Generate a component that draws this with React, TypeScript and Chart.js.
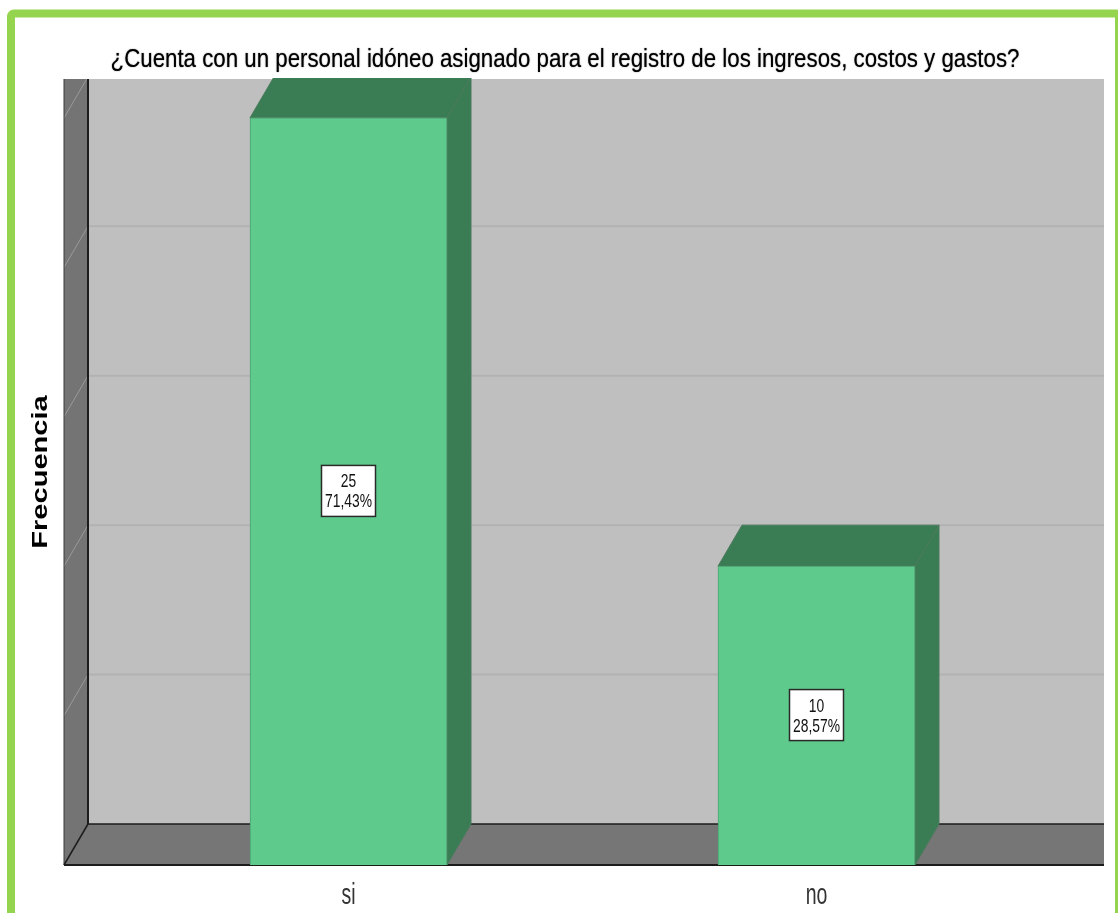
import React, { useEffect, useRef } from "react";
import { Chart, registerables } from "chart.js";

Chart.register(...registerables);

const categories = ["si", "no"];
const frequencies = [25, 10];
const percentLabels = ["71,43%", "28,57%"];
const chartTitle = "¿Cuenta con un personal idóneo asignado para el registro de los ingresos, costos y gastos?";
const yTitle = "Frecuencia";
const yStep = 5;
const yMax = 26.3;

const DEPTH_X = 24;
const DEPTH_Y = 41;
const WALL_LEFT_OFFSET = 50.5;
const WALL_RIGHT_OFFSET = 53.5;
const FONT = "'Liberation Sans', Arial, sans-serif";
const TITLE_SQUEEZE = 0.891;
const TICK_SQUEEZE = 0.65;
const LABEL_SQUEEZE = 0.77;
const YTITLE_STRETCH = 1.32;

const poly = (ctx: CanvasRenderingContext2D, pts: number[][], fill?: string, stroke?: string, lw = 1) => {
  ctx.beginPath();
  pts.forEach(([x, y], i) => (i ? ctx.lineTo(x, y) : ctx.moveTo(x, y)));
  ctx.closePath();
  if (fill) { ctx.fillStyle = fill; ctx.fill(); }
  if (stroke) { ctx.strokeStyle = stroke; ctx.lineWidth = lw; ctx.stroke(); }
};
const line = (ctx: CanvasRenderingContext2D, x1: number, y1: number, x2: number, y2: number, c: string, lw: number) => {
  ctx.beginPath();
  ctx.moveTo(x1, y1);
  ctx.lineTo(x2, y2);
  ctx.strokeStyle = c;
  ctx.lineWidth = lw;
  ctx.stroke();
};
const squeezeX = (ctx: CanvasRenderingContext2D, cx: number, s: number, fn: () => void) => {
  ctx.save();
  ctx.translate(cx, 0);
  ctx.scale(s, 1);
  ctx.translate(-cx, 0);
  fn();
  ctx.restore();
};

const framePlugin = {
  id: "frame3d",
  beforeDraw(chart: any) {
    const { ctx } = chart;
    ctx.save();
    ctx.beginPath();
    ctx.roundRect(11, 13.5, 1108, 920, 3);
    ctx.strokeStyle = "#94D44F";
    ctx.lineWidth = 8;
    ctx.stroke();
    ctx.restore();

    // The reference text is horizontally/vertically resampled: apply the same stretch to the native text.
    const title = chart.titleBlock;
    if (title && !title.__wrapped) {
      title.__wrapped = true;
      const orig = title.draw;
      title.draw = function (...args: any[]) {
        squeezeX(ctx, (this.left + this.right) / 2, TITLE_SQUEEZE, () => {
          ctx.shadowColor = "rgba(0,0,0,0.7)";
          ctx.shadowBlur = 1.2;
          orig.apply(this, args);
        });
      };
    }
    const xs = chart.scales.x;
    if (!xs.__wrapped) {
      xs.__wrapped = true;
      const orig = xs.drawLabels;
      xs.drawLabels = function (area: any) {
        const items = this.getLabelItems(area);
        items.forEach((item: any) => {
          this._labelItems = [item];
          squeezeX(ctx, item.options.translation[0], TICK_SQUEEZE, () => orig.call(this, area));
        });
        this._labelItems = items;
      };
    }
    const ys = chart.scales.y;
    if (!ys.__wrapped) {
      ys.__wrapped = true;
      const orig = ys.drawTitle;
      ys.drawTitle = function () {
        const cy = (this.top + this.bottom) / 2;
        ctx.save();
        ctx.translate(0, cy);
        ctx.scale(1, YTITLE_STRETCH);
        ctx.translate(0, -cy);
        orig.call(this);
        ctx.restore();
      };
    }
  },
  beforeDatasetsDraw(chart: any) {
    const { ctx, chartArea: a, scales } = chart;
    const L = a.left - WALL_LEFT_OFFSET;
    const R = a.right + WALL_RIGHT_OFFSET;
    const backL = L + DEPTH_X;
    const floorY = a.bottom - DEPTH_Y;
    ctx.save();
    poly(ctx, [[backL, a.top], [R, a.top], [R, floorY], [backL, floorY]], "#BFBFBF");
    poly(ctx, [[L, a.top], [backL, a.top], [backL, floorY], [L, a.bottom]], "#747474");
    poly(ctx, [[L, a.bottom], [backL, floorY], [R, floorY], [R, a.bottom]], "#767676");
    ctx.save();
    ctx.beginPath();
    ctx.rect(L, a.top, R - L, a.bottom - a.top);
    ctx.clip();
    scales.y.ticks.forEach((t: any) => {
      if (t.value === 0) return;
      const y = scales.y.getPixelForValue(t.value) - DEPTH_Y;
      line(ctx, backL, y, R, y, "#B2B2B2", 2);
      line(ctx, backL, y, L, y + DEPTH_Y, "#9A9A9A", 1);
    });
    ctx.restore();
    line(ctx, L, a.top, L, a.bottom, "#3A3A3A", 1);
    line(ctx, backL, a.top, backL, floorY, "#1C1C1C", 2);
    line(ctx, backL, floorY, R, floorY, "#1C1C1C", 1.5);
    line(ctx, L, a.bottom, backL, floorY, "#1C1C1C", 1.5);
    line(ctx, L, a.bottom, R, a.bottom, "#1C1C1C", 2);

    ctx.beginPath();
    ctx.rect(0, a.top - 1, chart.width, chart.height);
    ctx.clip();
    chart.getDatasetMeta(0).data.forEach((bar: any) => {
      const x1 = bar.x - bar.width / 2;
      const x2 = bar.x + bar.width / 2;
      poly(ctx, [[x1, bar.y], [x1 + DEPTH_X, bar.y - DEPTH_Y], [x2 + DEPTH_X, bar.y - DEPTH_Y], [x2, bar.y]], "#3A7D55", "#4A7A5C", 1);
      poly(ctx, [[x2, bar.y], [x2 + DEPTH_X, bar.y - DEPTH_Y], [x2 + DEPTH_X, a.bottom - DEPTH_Y], [x2, a.bottom]], "#3A7D55", "#4A7A5C", 1);
    });
    ctx.restore();
  },
  afterDatasetsDraw(chart: any) {
    const { ctx } = chart;
    ctx.save();
    ctx.textAlign = "center";
    ctx.textBaseline = "middle";
    chart.getDatasetMeta(0).data.forEach((bar: any, i: number) => {
      const cx = bar.x;
      const cy = (bar.y + bar.base) / 2;
      ctx.fillStyle = "#FFFFFF";
      ctx.fillRect(cx - 27, cy - 26, 54, 51);
      ctx.strokeStyle = "#2A2A2A";
      ctx.lineWidth = 1.5;
      ctx.strokeRect(cx - 27, cy - 26, 54, 51);
      ctx.fillStyle = "#111111";
      ctx.font = `18px ${FONT}`;
      squeezeX(ctx, cx, LABEL_SQUEEZE, () => {
        ctx.fillText(String(frequencies[i]), cx, cy - 9);
        ctx.fillText(percentLabels[i], cx, cy + 11);
      });
    });
    ctx.restore();
  },
};

export default function App() {
  const ref = useRef<HTMLCanvasElement | null>(null);
  useEffect(() => {
    if (!ref.current) return;
    const chart = new Chart(ref.current, {
      type: "bar",
      plugins: [framePlugin],
      data: {
        labels: categories,
        datasets: [
          {
            label: yTitle,
            data: frequencies,
            backgroundColor: "#5ECB8C",
            borderColor: "#4F9E70",
            borderWidth: 1,
            barThickness: 197,
          },
        ],
      },
      options: {
        responsive: false,
        animation: false,
        layout: { padding: { left: 12, right: 0, top: 0, bottom: 0 } },
        plugins: {
          legend: { display: false },
          tooltip: { enabled: false },
          title: {
            display: true,
            text: chartTitle,
            color: "#000000",
            font: { family: FONT, size: 25, weight: "normal", lineHeight: 1.1 },
            padding: { top: 46, bottom: 5.5 },
          },
        },
        scales: {
          x: {
            grid: { display: false },
            border: { display: false },
            ticks: { color: "#333333", font: { family: FONT, size: 30 }, padding: 5 },
            afterFit: (s: any) => { s.height = 48; },
          },
          y: {
            min: 0,
            max: yMax,
            grid: { display: false },
            border: { display: false },
            ticks: { stepSize: yStep, display: false },
            title: {
              display: true,
              text: yTitle,
              color: "#000000",
              font: { family: FONT, size: 22, weight: "bold" },
              padding: { top: 16, bottom: 0 },
            },
            afterFit: (s: any) => { s.width = 102.5; },
          },
          yRight: {
            position: "right",
            display: true,
            grid: { display: false },
            border: { display: false },
            ticks: { display: false },
            afterFit: (s: any) => { s.width = 67.5; },
          },
        },
      },
    } as any);
    return () => chart.destroy();
  }, []);
  return (
    <div style={{ position: "absolute", left: 0, top: 0, width: 1118, height: 913, overflow: "hidden", background: "#fff" }}>
      <canvas ref={ref} width={1118} height={913} style={{ display: "block" }} />
    </div>
  );
}
